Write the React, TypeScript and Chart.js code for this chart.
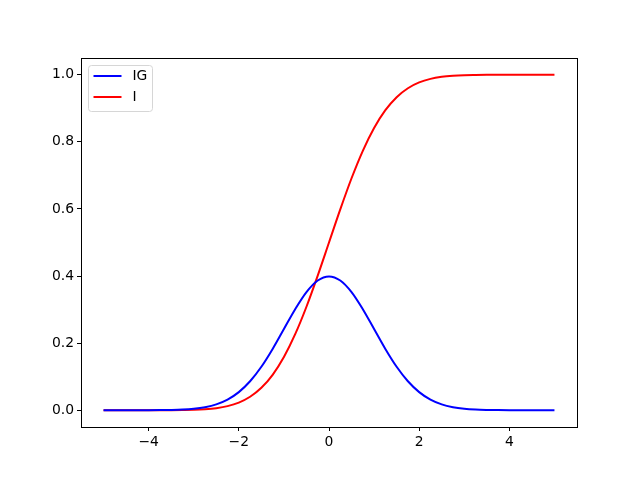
import React, { useEffect, useRef } from "react";
import { Chart, registerables } from "chart.js";

Chart.register(...registerables);

const xs = [
  -5, -4.75, -4.5, -4.25, -4, -3.75, -3.5, -3.25, -3, -2.75, -2.5, -2.25, -2, -1.75, -1.5, -1.25, -1, -0.75, -0.5, -0.25,
  0, 0.25, 0.5, 0.75, 1, 1.25, 1.5, 1.75, 2, 2.25, 2.5, 2.75, 3, 3.25, 3.5, 3.75, 4, 4.25, 4.5, 4.75, 5,
];
const igValues = [
  0.0, 0.00001, 0.00002, 0.00005, 0.0001, 0.0004, 0.0009, 0.002, 0.0044, 0.0091, 0.0175, 0.0317, 0.054, 0.0863, 0.1295,
  0.1826, 0.242, 0.3011, 0.3521, 0.3867, 0.3989, 0.3867, 0.3521, 0.3011, 0.242, 0.1826, 0.1295, 0.0863, 0.054, 0.0317,
  0.0175, 0.0091, 0.0044, 0.002, 0.0009, 0.0004, 0.0001, 0.00005, 0.00002, 0.00001, 0.0,
];
const iValues = [
  0.0, 0.0, 0.0, 0.0, 0.0, 0.0001, 0.0002, 0.0006, 0.0013, 0.003, 0.0062, 0.0122, 0.0228, 0.0401, 0.0668, 0.1056, 0.1587,
  0.2266, 0.3085, 0.4013, 0.5, 0.5987, 0.6915, 0.7734, 0.8413, 0.8944, 0.9332, 0.9599, 0.9772, 0.9878, 0.9938, 0.997,
  0.9987, 0.9994, 0.9998, 0.9999, 1.0, 1.0, 1.0, 1.0, 1.0,
];
const xTicks = [-4, -2, 0, 2, 4];
const yTicks = [0, 0.2, 0.4, 0.6, 0.8, 1.0];
const seriesNames = ["IG", "I"];
const seriesColors = ["#0000ff", "#ff0000"];

const FONT = "'DejaVu Sans', sans-serif";

const frameAndLegend = {
  id: "frameAndLegend",
  afterDatasetsDraw(chart: any) {
    const { ctx, chartArea } = chart;
    ctx.save();
    ctx.strokeStyle = "#000";
    ctx.lineWidth = 1;
    ctx.strokeRect(
      Math.round(chartArea.left) + 0.5,
      Math.round(chartArea.top) + 0.5,
      Math.round(chartArea.right - chartArea.left),
      Math.round(chartArea.bottom - chartArea.top)
    );
    // legend
    const bx = chartArea.left + 7.5;
    const by = chartArea.top + 7.5;
    const bw = 64;
    const bh = 46;
    const r = 3;
    ctx.beginPath();
    ctx.moveTo(bx + r, by);
    ctx.lineTo(bx + bw - r, by);
    ctx.quadraticCurveTo(bx + bw, by, bx + bw, by + r);
    ctx.lineTo(bx + bw, by + bh - r);
    ctx.quadraticCurveTo(bx + bw, by + bh, bx + bw - r, by + bh);
    ctx.lineTo(bx + r, by + bh);
    ctx.quadraticCurveTo(bx, by + bh, bx, by + bh - r);
    ctx.lineTo(bx, by + r);
    ctx.quadraticCurveTo(bx, by, bx + r, by);
    ctx.closePath();
    ctx.fillStyle = "rgba(255,255,255,0.8)";
    ctx.fill();
    ctx.strokeStyle = "#d6d6d6";
    ctx.stroke();
    ctx.font = `13.9px ${FONT}`;
    ctx.textBaseline = "middle";
    seriesNames.forEach((name, i) => {
      const y = by + 10.5 + i * 21;
      ctx.strokeStyle = seriesColors[i];
      ctx.lineWidth = 2;
      ctx.beginPath();
      ctx.moveTo(bx + 5, y);
      ctx.lineTo(bx + 33, y);
      ctx.stroke();
      ctx.fillStyle = "#000";
      ctx.fillText(name, bx + 44, y);
    });
    ctx.restore();
  },
};

export default function App() {
  const ref = useRef<HTMLCanvasElement>(null);
  useEffect(() => {
    document.body.style.margin = "0";
    const canvas = ref.current!;
    const chart = new Chart(canvas, {
      type: "line",
      data: {
        datasets: [
          {
            label: seriesNames[0],
            data: xs.map((x, i) => ({ x, y: igValues[i] })),
            borderColor: seriesColors[0],
            borderWidth: 2,
            pointRadius: 0,
            cubicInterpolationMode: "monotone",
            fill: false,
          },
          {
            label: seriesNames[1],
            data: xs.map((x, i) => ({ x, y: iValues[i] })),
            borderColor: seriesColors[1],
            borderWidth: 2,
            pointRadius: 0,
            cubicInterpolationMode: "monotone",
            fill: false,
          },
        ],
      },
      options: {
        animation: false,
        responsive: false,
        devicePixelRatio: 1,
        layout: { padding: { left: 0, right: 63, top: 58, bottom: 0 } },
        plugins: { legend: { display: false }, tooltip: { enabled: false } },
        scales: {
          x: {
            type: "linear",
            min: -5.5,
            max: 5.5,
            afterBuildTicks: (s: any) => {
              s.ticks = xTicks.map((v) => ({ value: v }));
            },
            afterFit: (s: any) => {
              s.height = 53;
            },
            grid: { drawOnChartArea: false, color: "#000", tickLength: 4, tickColor: "#000" },
            border: { color: "#000", width: 1 },
            ticks: {
              color: "#000",
              font: { family: FONT, size: 13.9 },
              padding: 3,
              maxRotation: 0,
              callback: (v: any) => (v < 0 ? "\u2212" + Math.abs(v) : String(v)),
            },
          },
          y: {
            type: "linear",
            min: -0.05,
            max: 1.05,
            afterBuildTicks: (s: any) => {
              s.ticks = yTicks.map((v) => ({ value: v }));
            },
            afterFit: (s: any) => {
              s.width = 81;
            },
            grid: { drawOnChartArea: false, color: "#000", tickLength: 4, tickColor: "#000" },
            border: { color: "#000", width: 1 },
            ticks: {
              color: "#000",
              font: { family: FONT, size: 13.9 },
              padding: 3,
              callback: (v: any) => Number(v).toFixed(1),
            },
          },
        },
      },
      plugins: [frameAndLegend],
    });
    return () => chart.destroy();
  }, []);
  return (
    <div style={{ width: 640, height: 480, background: "#fff" }}>
      <canvas ref={ref} width={640} height={480} style={{ display: "block", width: 640, height: 480 }} />
    </div>
  );
}
